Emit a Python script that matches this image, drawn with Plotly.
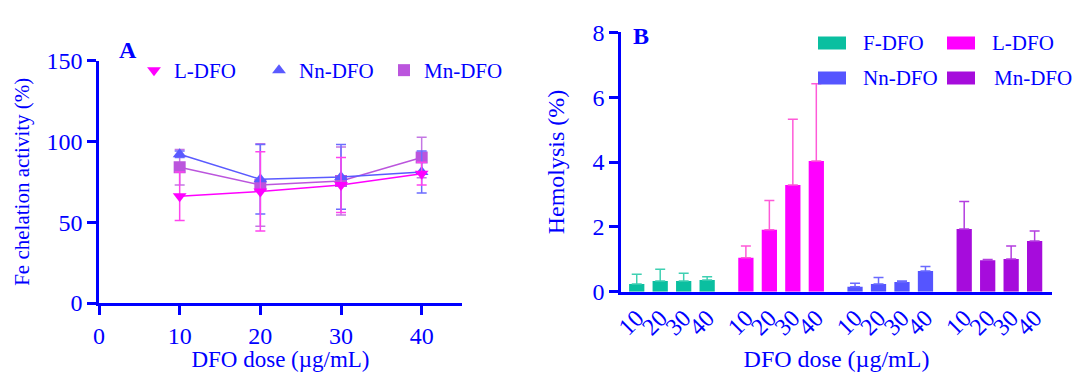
import plotly.graph_objects as go

# ---------------- data ----------------
# Panel A: Fe chelation activity (%)
doses_a = [10, 20, 30, 40]
l_dfo_mean = [66, 69, 73, 80]
l_dfo_sd = [15, 24.5, 17, 7]
nn_dfo_mean = [92, 76.5, 78, 81]
nn_dfo_sd = [2, 21.5, 20, 13]
mn_dfo_mean = [84, 73, 75.5, 90]
mn_dfo_sd = [11, 25.5, 21, 12.5]

# Panel B: Hemolysis (%)
dose_labels = ["10", "20", "30", "40"]
groups = ["F-DFO", "L-DFO", "Nn-DFO", "Mn-DFO"]
f_hemo = [0.24, 0.33, 0.33, 0.36]
f_hemo_sd = [0.30, 0.36, 0.24, 0.10]
l_hemo = [1.05, 1.91, 3.29, 4.03]
l_hemo_sd = [0.36, 0.90, 2.03, 2.38]
nn_hemo = [0.15, 0.24, 0.30, 0.64]
nn_hemo_sd = [0.11, 0.20, 0.03, 0.14]
mn_hemo = [1.93, 0.97, 1.01, 1.56]
mn_hemo_sd = [0.85, 0.02, 0.40, 0.31]

# ---------------- styles ----------------
W, H = 1074, 372
AX = "#0000ff"
FONT = "Liberation Serif"

colA = {"L-DFO": "#ff00ff", "Nn-DFO": "#5a5aff", "Mn-DFO": "#bb55dd"}
errA = {"L-DFO": "#ff44ee", "Nn-DFO": "#6c6cff", "Mn-DFO": "#c477e4"}
symA = {"L-DFO": "triangle-down", "Nn-DFO": "triangle-up", "Mn-DFO": "square"}

colB = ["#0abfa0", "#ff00ff", "#5555ff", "#a60cdc"]
errB = ["#3fd0b2", "#ff5ad8", "#6a6aff", "#b43ee0"]

fig = go.Figure()

seriesA = [("Mn-DFO", mn_dfo_mean, mn_dfo_sd),
           ("Nn-DFO", nn_dfo_mean, nn_dfo_sd),
           ("L-DFO", l_dfo_mean, l_dfo_sd)]
for name, m, sd in seriesA:
    fig.add_trace(go.Scatter(
        x=doses_a, y=m, mode="lines+markers", name=name, showlegend=False,
        line=dict(color=colA[name], width=1.5),
        marker=dict(symbol=symA[name], size=12, color=colA[name]),
        error_y=dict(type="data", array=sd, color=errA[name], thickness=1.5, width=5),
        xaxis="x", yaxis="y"))

# legend entries for panel A (markers only)
for name in ["L-DFO", "Nn-DFO", "Mn-DFO"]:
    fig.add_trace(go.Scatter(
        x=[None], y=[None], mode="markers", name=name, legend="legend",
        marker=dict(symbol=symA[name], size=12, color=colA[name]),
        xaxis="x", yaxis="y"))

# Panel B bars
G = 4.65
valsB = [f_hemo, l_hemo, nn_hemo, mn_hemo]
sdsB = [f_hemo_sd, l_hemo_sd, nn_hemo_sd, mn_hemo_sd]
tickvals, ticktext = [], []
for gi, (gname, v, sd) in enumerate(zip(groups, valsB, sdsB)):
    xs = [gi * G + i for i in range(len(v))]
    tickvals += xs
    ticktext += dose_labels
    fig.add_trace(go.Bar(
        x=xs, y=v, name=gname, showlegend=False, width=0.65,
        marker=dict(color=colB[gi], line=dict(width=0)),
        error_y=dict(type="data", symmetric=False, array=sd, arrayminus=[0] * len(sd),
                     color=errB[gi], thickness=1.5, width=5),
        xaxis="x2", yaxis="y2"))

# manual legend for panel B (wide rectangles)
leg_items = [(0, 818, 43), (1, 947, 43), (2, 818, 78), (3, 947, 78)]
text_x = {0: 861, 1: 990, 2: 861, 3: 992}
for gi, x0, yc in leg_items:
    fig.add_shape(type="rect", xref="paper", yref="paper",
                  x0=x0 / W, x1=(x0 + 28) / W,
                  y0=1 - (yc + 6.5) / H, y1=1 - (yc - 6.5) / H,
                  fillcolor=colB[gi], line=dict(width=0), layer="above")
    fig.add_annotation(x=text_x[gi] / W, y=1 - yc / H, xref="paper", yref="paper",
                       text=groups[gi], showarrow=False, xanchor="left", yanchor="middle",
                       font=dict(family=FONT, size=21, color=AX))

# panel letters
fig.add_annotation(x=117 / W, y=1 - 35 / H, xref="paper", yref="paper", text="<b>A</b>",
                   showarrow=False, font=dict(family=FONT, size=24, color=AX))
fig.add_annotation(x=641 / W, y=1 - 21 / H, xref="paper", yref="paper", text="<b>B</b>",
                   showarrow=False, font=dict(family=FONT, size=24, color=AX))

axis_common = dict(showline=True, linecolor=AX, linewidth=2.5, showgrid=False, zeroline=False,
                   ticks="outside", tickcolor=AX, tickwidth=2.5, ticklen=9, automargin=False,
                   tickfont=dict(family=FONT, size=24, color=AX))

fig.update_layout(
    width=W, height=H, margin=dict(l=0, r=0, t=0, b=0, autoexpand=False),
    paper_bgcolor="white", plot_bgcolor="white",
    font=dict(family=FONT, color=AX),
    barmode="overlay",
    xaxis=dict(domain=[99 / W, 462 / W], range=[0, 45], tickvals=[0, 10, 20, 30, 40],
               anchor="y", title=dict(text="DFO dose (µg/mL)", standoff=4,
                                      font=dict(family=FONT, size=23, color=AX)), **axis_common),
    yaxis=dict(domain=[1 - 303 / H, 1 - 60.5 / H], range=[0, 150], tickvals=[0, 50, 100, 150],
               anchor="x", title=dict(text="Fe chelation activity (%)", standoff=12,
                                      font=dict(family=FONT, size=21, color=AX)), **axis_common),
    xaxis2=dict(domain=[621 / W, 1052 / W], range=[-0.67, 3 * G + 3 + 0.74],
                tickvals=tickvals, ticktext=ticktext, tickangle=-45, anchor="y2",
                title=dict(text="DFO dose (µg/mL)", standoff=14,
                           font=dict(family=FONT, size=24, color=AX)),
                **{**axis_common, "ticks": ""}),
    yaxis2=dict(domain=[1 - 291.7 / H, 1 - 32.3 / H], range=[0, 8], tickvals=[0, 2, 4, 6, 8],
                anchor="x2", title=dict(text="Hemolysis (%)", standoff=22,
                                        font=dict(family=FONT, size=24, color=AX)), **axis_common),
    legend=dict(orientation="h", x=134 / W, y=1 - 50 / H, xanchor="left", yanchor="top",
                font=dict(family=FONT, size=21, color=AX), entrywidth=80,
                bgcolor="rgba(0,0,0,0)", itemsizing="constant"),
)

fig.write_html("out.html")
